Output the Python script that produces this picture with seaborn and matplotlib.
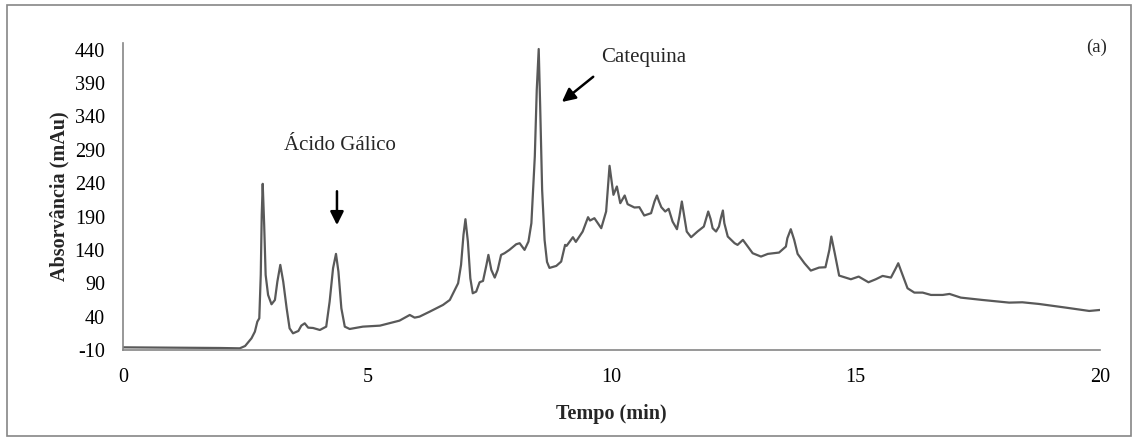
import matplotlib
matplotlib.use("Agg")
import matplotlib.pyplot as plt
import seaborn as sns
import pandas as pd
from matplotlib.patches import Rectangle

# Retention time (min) and absorbance (mAu)
tempo = [0.0, 1.0, 2.0, 2.39, 2.50, 2.63, 2.70, 2.75, 2.79, 2.82, 2.84, 2.86, 2.89, 2.92, 2.97,
         3.04, 3.11, 3.16, 3.22, 3.28, 3.35, 3.41, 3.48, 3.59, 3.65, 3.72, 3.79, 3.89, 4.03,
         4.16, 4.23, 4.30, 4.36, 4.41, 4.47, 4.54, 4.64, 4.91, 5.26, 5.66, 5.87, 5.97, 6.07,
         6.28, 6.55, 6.69, 6.86, 6.92, 6.97, 7.01, 7.06, 7.11, 7.16, 7.23, 7.30, 7.37, 7.44,
         7.48, 7.54, 7.61, 7.67, 7.74, 7.81, 7.91, 8.05, 8.12, 8.22, 8.30, 8.36, 8.43, 8.47,
         8.51, 8.54, 8.58, 8.63, 8.68, 8.73, 8.87, 8.97, 9.05, 9.08, 9.21, 9.27, 9.41, 9.52,
         9.56, 9.65, 9.79, 9.89, 9.96, 10.04, 10.11, 10.18, 10.27, 10.33, 10.47, 10.57,
         10.67, 10.81, 10.88, 10.93, 10.97, 11.02, 11.10, 11.17, 11.25, 11.34, 11.39, 11.44,
         11.49, 11.54, 11.63, 11.76, 11.89, 11.94, 11.98, 12.03, 12.07, 12.14, 12.20, 12.24,
         12.28, 12.31, 12.38, 12.52, 12.58, 12.69, 12.79, 12.89, 13.06, 13.20, 13.43, 13.57,
         13.60, 13.67, 13.74, 13.81, 13.95, 14.08, 14.25, 14.38, 14.46, 14.50, 14.57, 14.66,
         14.90, 15.06, 15.26, 15.41, 15.55, 15.72, 15.82, 15.87, 15.92, 16.06, 16.20, 16.37,
         16.54, 16.78, 16.92, 17.15, 17.59, 18.14, 18.41, 18.75, 19.30, 19.78, 20.0]
absorvancia = [-6, -6.5, -7, -7.5, -4, 7.5, 17.5, 32.5, 37.5, 102.5, 192.5, 239, 177.5, 102.5, 72.5,
               58.5, 65, 92.5, 117.5, 92.5, 52.5, 22.5, 15, 18.5, 26.5, 30, 23.5, 23, 20,
               25, 62.5, 112.5, 134, 107.5, 52.5, 25, 21.5, 25, 26.5, 34, 42.5, 38.5, 40,
               47.5, 57.5, 65, 90, 117.5, 162.5, 186, 152.5, 97.5, 75, 77.5, 91.5, 93.5, 117.5,
               132.5, 110, 98.5, 110, 132.5, 135, 140, 148.5, 150, 140, 152.5, 180, 280, 380,
               441, 355, 230, 155, 122, 113, 116, 122.5, 147.5, 146, 159, 152, 167.5, 189,
               184, 187.5, 172.5, 197.5, 266, 222.5, 235, 210, 221.5, 208.5, 203.5, 204,
               191.5, 195, 212.5, 221.5, 213, 204, 197.5, 201.5, 182.5, 171, 190, 212.5,
               190, 167.5, 159, 167.5, 175, 187.5, 197.5, 186, 172.5, 167.5, 175, 188,
               199, 180, 160, 150, 147.5, 155, 145, 135, 130, 134, 136, 145,
               157.5, 171, 155, 134, 120, 109, 113.5, 114, 140, 160, 135, 101.5,
               96, 100, 91.5, 96, 101, 98.5, 112.5, 120, 110, 82.5, 76, 76,
               72.5, 72.5, 74, 68.5, 65, 61, 61.5, 59, 53.5, 48.5, 50]

x_ticks = [0, 5, 10, 15, 20]
y_ticks = [-10, 40, 90, 140, 190, 240, 290, 340, 390, 440]

df = pd.DataFrame({"Tempo": tempo, "Abs": absorvancia})

sns.set_style("white")
plt.rcParams["font.family"] = ["Liberation Serif", "DejaVu Serif"]

fig = plt.figure(figsize=(11.38, 4.41), dpi=100)
ax = fig.add_axes([123 / 1138, 1 - 350 / 441, (1100 - 123) / 1138, (350 - 43) / 441])

sns.lineplot(data=df, x="Tempo", y="Abs", ax=ax, color="#595959", linewidth=1.6,
             estimator=None, sort=False, solid_joinstyle="round")

ax.set_xlim(0, 20)
ax.set_ylim(-10, 450)
ax.set_xticks(x_ticks)
ax.set_yticks(y_ticks)
ax.set_xticklabels([str(t) for t in x_ticks])
ax.set_yticklabels([str(t) for t in y_ticks])
ax.tick_params(axis="both", direction="out", length=5, width=1, color="#868686",
               labelsize=14.5, labelcolor="black")
ax.tick_params(axis="y", pad=8)
ax.tick_params(axis="x", pad=8)
for s in ["top", "right"]:
    ax.spines[s].set_visible(False)
for s in ["left", "bottom"]:
    ax.spines[s].set_color("#868686")
    ax.spines[s].set_linewidth(1.2)

ax.set_xlabel("Tempo (min)", fontsize=14.5, fontweight="bold", labelpad=12)
ax.set_ylabel("Absorvância (mAu)", fontsize=14.5, fontweight="bold", labelpad=4)

ax.text(4.44, 297, "Ácido Gálico", fontsize=15, ha="center", va="center")
ax.annotate("", xy=(4.38, 173), xytext=(4.38, 232),
            arrowprops=dict(arrowstyle="-|>,head_width=0.4,head_length=0.8", color="black", lw=1.8))
ax.text(10.65, 428, "Catequina", fontsize=15, ha="center", va="center")
ax.annotate("", xy=(8.94, 359), xytext=(9.67, 402),
            arrowprops=dict(arrowstyle="-|>,head_width=0.4,head_length=0.8", color="black", lw=1.8))
ax.text(20.15, 443, "(a)", fontsize=13.5, ha="right", va="center")

fig.patches.append(Rectangle((7 / 1138, 1 - 436 / 441), (1131 - 7) / 1138, (436 - 5) / 441,
                             transform=fig.transFigure, fill=False, edgecolor="#868686",
                             linewidth=1.2))

fig.savefig("out.png", dpi=100)
